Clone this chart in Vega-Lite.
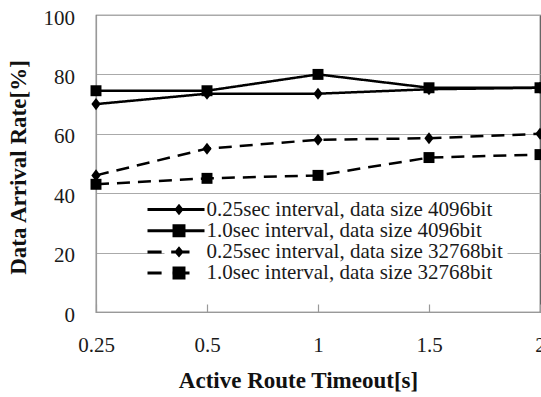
{
  "$schema": "https://vega.github.io/schema/vega-lite/v6.json",
  "width": 444,
  "height": 297,
  "autosize": {"type": "none"},
  "padding": {"left": 96, "top": 15, "right": 1, "bottom": 85},
  "background": "white",
  "config": {
    "font": "Liberation Serif",
    "view": {"stroke": "#555", "strokeWidth": 1.2}
  },
  "data": {
    "values": [
      {"t": "0.25", "s": "0.25sec interval, data size 4096bit", "v": 70},
      {"t": "0.5", "s": "0.25sec interval, data size 4096bit", "v": 73.5},
      {"t": "1", "s": "0.25sec interval, data size 4096bit", "v": 73.5},
      {"t": "1.5", "s": "0.25sec interval, data size 4096bit", "v": 75},
      {"t": "2", "s": "0.25sec interval, data size 4096bit", "v": 75.5},
      {"t": "0.25", "s": "1.0sec interval, data size 4096bit", "v": 74.5},
      {"t": "0.5", "s": "1.0sec interval, data size 4096bit", "v": 74.5},
      {"t": "1", "s": "1.0sec interval, data size 4096bit", "v": 80},
      {"t": "1.5", "s": "1.0sec interval, data size 4096bit", "v": 75.5},
      {"t": "2", "s": "1.0sec interval, data size 4096bit", "v": 75.5},
      {"t": "0.25", "s": "0.25sec interval, data size 32768bit", "v": 46},
      {"t": "0.5", "s": "0.25sec interval, data size 32768bit", "v": 55},
      {"t": "1", "s": "0.25sec interval, data size 32768bit", "v": 58},
      {"t": "1.5", "s": "0.25sec interval, data size 32768bit", "v": 58.5},
      {"t": "2", "s": "0.25sec interval, data size 32768bit", "v": 60},
      {"t": "0.25", "s": "1.0sec interval, data size 32768bit", "v": 43},
      {"t": "0.5", "s": "1.0sec interval, data size 32768bit", "v": 45},
      {"t": "1", "s": "1.0sec interval, data size 32768bit", "v": 46},
      {"t": "1.5", "s": "1.0sec interval, data size 32768bit", "v": 52},
      {"t": "2", "s": "1.0sec interval, data size 32768bit", "v": 53}
    ]
  },
  "encoding": {
    "x": {
      "field": "t",
      "type": "ordinal",
      "sort": ["0.25", "0.5", "1", "1.5", "2"],
      "scale": {"type": "point", "padding": 0},
      "axis": {
        "title": "Active Route Timeout[s]",
        "titleFont": "Liberation Serif",
        "titleFontSize": 23,
        "titleFontWeight": "bold",
        "titleColor": "#111",
        "titleX": 202,
        "titleY": 75.5,
        "titleAlign": "center",
        "titleBaseline": "alphabetic",
        "labelAngle": 0,
        "labelFont": "Liberation Serif",
        "labelFontSize": 21,
        "labelColor": "#1a1a1a",
        "labelPadding": 30,
        "labelOverlap": false,
        "labelFlush": false,
        "domainColor": "#999",
        "domainWidth": 1.2,
        "tickColor": "#999",
        "tickSize": -8,
        "tickWidth": 1.2,
        "grid": false
      }
    },
    "y": {
      "field": "v",
      "type": "quantitative",
      "scale": {"domain": [0, 100], "nice": false},
      "axis": {
        "title": "Data Arrival Rate[%]",
        "titleFont": "Liberation Serif",
        "titleFontSize": 23,
        "titleFontWeight": "bold",
        "titleColor": "#111",
        "titleX": -71,
        "titleY": 152,
        "titleAngle": -90,
        "titleAlign": "center",
        "titleBaseline": "alphabetic",
        "values": [0, 20, 40, 60, 80, 100],
        "labelFont": "Liberation Serif",
        "labelFontSize": 21,
        "labelColor": "#1a1a1a",
        "labelPadding": 21.5,
        "labelOffset": 3,
        "tickSize": 0,
        "domainColor": "#999",
        "domainWidth": 1.2,
        "gridColor": "#aaa",
        "gridWidth": 1.2
      }
    }
  },
  "resolve": {"scale": {"shape": "independent"}},
  "layer": [
    {
      "mark": {"type": "line", "color": "black", "strokeWidth": 2.5},
      "encoding": {
        "strokeDash": {
          "field": "s",
          "type": "nominal",
          "scale": {
            "range": [[13, 8], [1, 0], [13, 8], [1, 0]]
          },
          "legend": null
        }
      }
    },
    {
      "mark": {"type": "point", "filled": true, "color": "black", "opacity": 1},
      "encoding": {
        "shape": {
          "field": "s",
          "type": "nominal",
          "scale": {
            "domain": ["0.25sec interval, data size 4096bit", "1.0sec interval, data size 4096bit", "0.25sec interval, data size 32768bit", "1.0sec interval, data size 32768bit"],
            "range": ["M0,-1.1L0.85,0L0,1.1L-0.85,0Z", "square", "M0,-1.1L0.85,0L0,1.1L-0.85,0Z", "square"]
          },
          "legend": null
        },
        "size": {"value": 120}
      }
    },
    {
      "mark": {"type": "point", "filled": true, "fill": "black", "opacity": 0},
      "encoding": {
        "shape": {
          "field": "s",
          "type": "nominal",
          "scale": {
            "domain": ["0.25sec interval, data size 4096bit", "1.0sec interval, data size 4096bit", "0.25sec interval, data size 32768bit", "1.0sec interval, data size 32768bit"],
            "range": [
              "M-5.25,-0.25H4.25V0.25H-5.25ZM0,-0.95L0.78,0L0,0.95L-0.78,0Z",
              "M-5.25,-0.25H4.25V0.25H-5.25ZM-1.08,-1.08H1.08V1.08H-1.08Z",
              "M-5.25,-0.25H-2.9V0.25H-5.25ZM-1.3,-0.25H1.75V0.25H-1.3ZM0,-0.95L0.78,0L0,0.95L-0.78,0Z",
              "M-5.25,-0.25H-2.9V0.25H-5.25ZM-1.1,-0.25H1.75V0.25H-1.1ZM-1.08,-1.08H1.08V1.08H-1.08Z"
            ]
          },
          "legend": {
            "title": null,
            "orient": "none",
            "legendX": 68.5,
            "legendY": 180,
            "padding": 4,
            "fillColor": "white",
            "symbolSize": 144,
            "symbolStrokeWidth": 0,
            "symbolFillColor": "black",
            "symbolOpacity": 1,
            "labelFont": "Liberation Serif",
            "labelFontSize": 21,
            "labelColor": "#1a1a1a",
            "labelLimit": 1000,
            "labelOffset": 17,
            "rowPadding": -0.8
          }
        },
        "size": {"value": 144}
      }
    }
  ]
}
